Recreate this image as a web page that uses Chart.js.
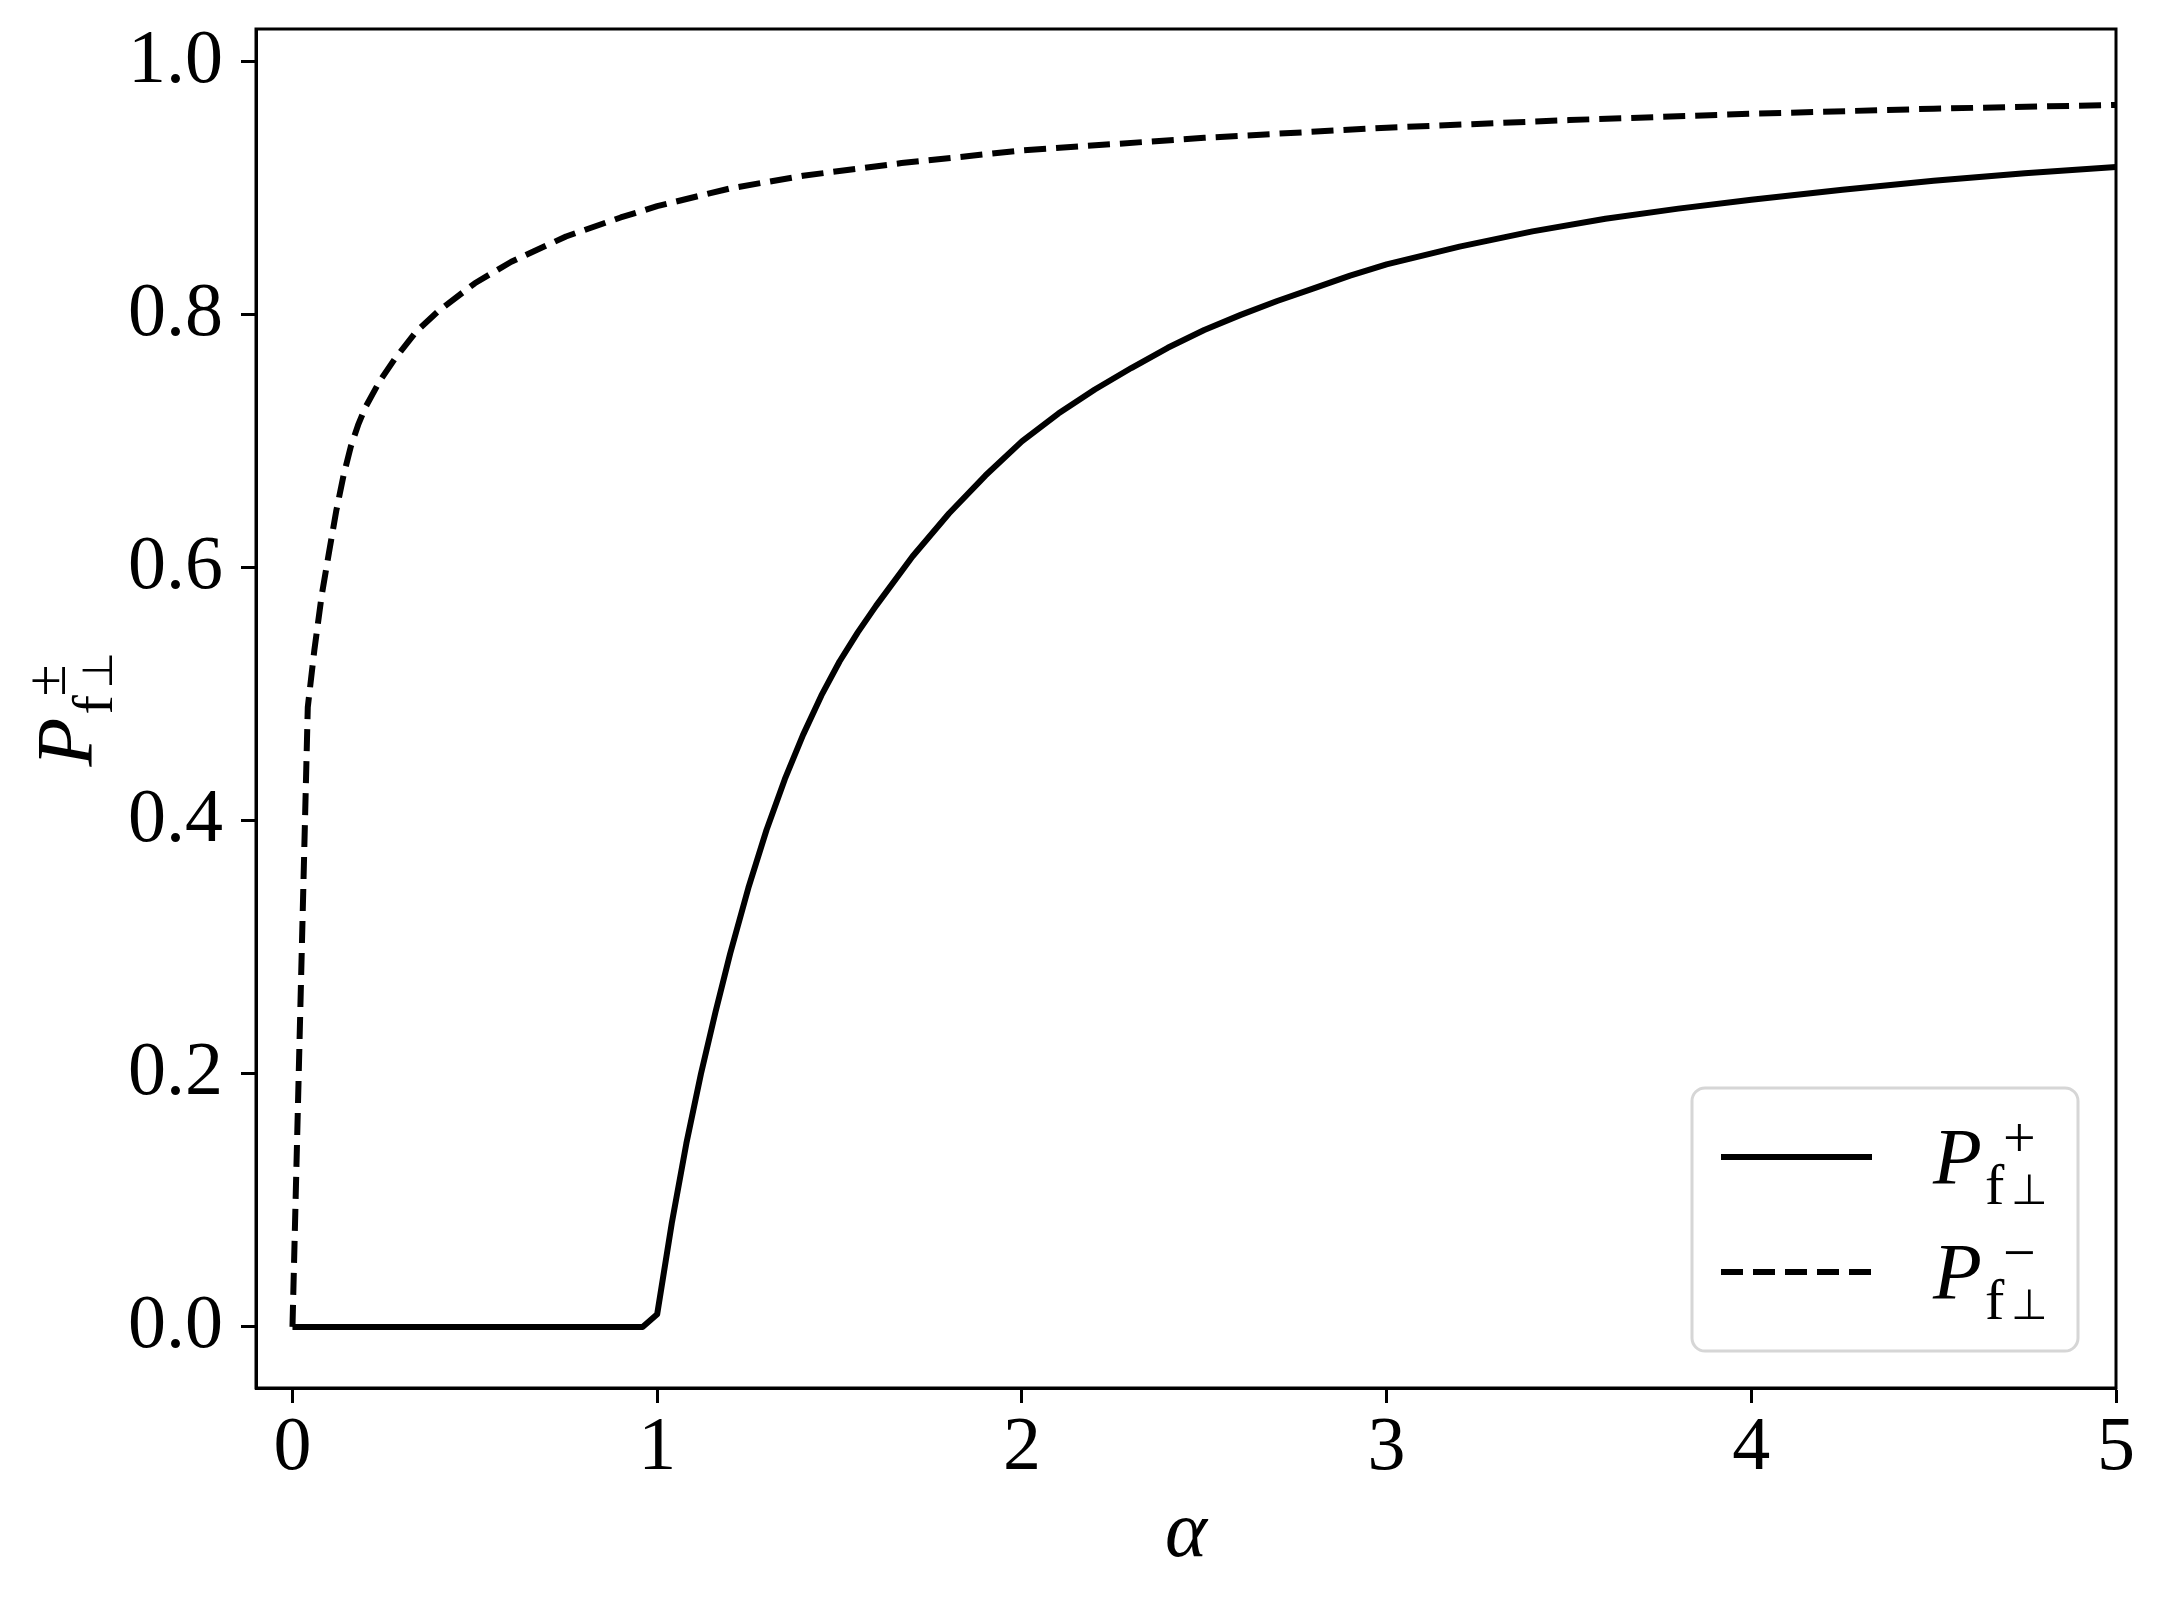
<!DOCTYPE html>
<html>
<head>
<meta charset="utf-8">
<script src="https://cdn.jsdelivr.net/npm/chart.js@4.4.1/dist/chart.umd.min.js"></script>
<style>
html,body{margin:0;padding:0;background:#fff;}
canvas{display:block;}
</style>
</head>
<body>
<canvas id="c" width="2164" height="1602"></canvas>
<script>
// ---- data ----
const alphaPlus = [0, 0.96, 1.0, 1.04, 1.08, 1.12, 1.16, 1.2, 1.25, 1.3, 1.35, 1.4, 1.45, 1.5, 1.55, 1.6, 1.7, 1.8, 1.9, 2.0, 2.1, 2.2, 2.3, 2.4, 2.5, 2.6, 2.7, 2.8, 2.9, 3.0, 3.2, 3.4, 3.6, 3.8, 4.0, 4.25, 4.5, 4.75, 5.0];
const pPlus     = [0, 0, 0.01, 0.082, 0.145, 0.200, 0.249, 0.295, 0.347, 0.393, 0.433, 0.468, 0.499, 0.526, 0.549, 0.570, 0.609, 0.643, 0.673, 0.700, 0.722, 0.741, 0.758, 0.774, 0.788, 0.800, 0.811, 0.821, 0.831, 0.840, 0.854, 0.866, 0.876, 0.884, 0.891, 0.899, 0.906, 0.912, 0.917];
const alphaMinus = [0, 0.042, 0.06, 0.08, 0.10, 0.12, 0.14, 0.16, 0.18, 0.20, 0.24, 0.28, 0.34, 0.40, 0.50, 0.60, 0.75, 0.90, 1.0, 1.2, 1.4, 1.67, 2.0, 2.5, 3.0, 3.5, 4.0, 4.5, 5.0];
const pMinus     = [0, 0.49, 0.535, 0.578, 0.612, 0.645, 0.673, 0.696, 0.713, 0.727, 0.748, 0.765, 0.787, 0.803, 0.825, 0.842, 0.862, 0.877, 0.886, 0.900, 0.910, 0.920, 0.930, 0.940, 0.948, 0.954, 0.959, 0.963, 0.966];
const xTicks = [0, 1, 2, 3, 4, 5];
const yTicks = [0.0, 0.2, 0.4, 0.6, 0.8, 1.0];
const xRange = [-0.1, 5];
const yRange = [-0.0483, 1.026];
const seriesSuperscripts = ['+', '\u2212'];

const SERIF = '"Liberation Serif", "Times New Roman", serif';

function toPoints(xs, ys) { return xs.map((x, i) => ({ x: x, y: ys[i] })); }

// draws P_{f⊥}^{sup} with its baseline at (0,0)
function drawMathP(ctx, sup) {
  ctx.textAlign = 'left';
  ctx.textBaseline = 'alphabetic';
  ctx.font = 'italic 80px ' + SERIF;
  ctx.fillText('P', 0, 0);
  ctx.font = '58px ' + SERIF;
  ctx.fillText('f', 52, 20);
  ctx.font = '42px "DejaVu Sans"';
  ctx.fillText('\u22A5', 78, 20);
  ctx.font = '58px ' + SERIF;
  ctx.fillText(sup, 70, -27);
}

const framePlugin = {
  id: 'frame',
  afterDraw(chart) {
    const ctx = chart.ctx, a = chart.chartArea;
    ctx.save();
    ctx.strokeStyle = '#000';
    ctx.lineWidth = 3;
    ctx.strokeRect(a.left, a.top, a.right - a.left, a.bottom - a.top);
    ctx.restore();
  }
};

const labelPlugin = {
  id: 'mathLabels',
  afterDraw(chart) {
    const ctx = chart.ctx, a = chart.chartArea;
    ctx.save();
    ctx.fillStyle = '#000';
    // x-axis title
    ctx.font = 'italic 80px ' + SERIF;
    ctx.textAlign = 'center';
    ctx.textBaseline = 'alphabetic';
    ctx.fillText('\u03B1', (a.left + a.right) / 2, a.bottom + 168);
    // y-axis title
    ctx.save();
    ctx.translate(a.left - 164, (a.top + a.bottom) / 2 + 58);
    ctx.rotate(-Math.PI / 2);
    drawMathP(ctx, '\u00B1');
    ctx.restore();

    // legend
    const left = a.right - 424, top = a.bottom - 300, w = 386, h = 263, r = 13;
    ctx.beginPath();
    ctx.moveTo(left + r, top);
    ctx.arcTo(left + w, top, left + w, top + h, r);
    ctx.arcTo(left + w, top + h, left, top + h, r);
    ctx.arcTo(left, top + h, left, top, r);
    ctx.arcTo(left, top, left + w, top, r);
    ctx.closePath();
    ctx.fillStyle = 'rgba(255,255,255,0.8)';
    ctx.fill();
    ctx.strokeStyle = '#d6d6d6';
    ctx.lineWidth = 3;
    ctx.stroke();

    chart.data.datasets.forEach((ds, i) => {
      const ly = top + 69 + i * 115;
      ctx.beginPath();
      ctx.strokeStyle = ds.borderColor;
      ctx.lineWidth = ds.borderWidth;
      ctx.setLineDash(ds.borderDash || []);
      ctx.lineCap = 'butt';
      ctx.moveTo(left + 29, ly);
      ctx.lineTo(left + 180, ly);
      ctx.stroke();
      ctx.setLineDash([]);
      ctx.fillStyle = '#000';
      ctx.save();
      ctx.translate(left + 241, ly + 27);
      drawMathP(ctx, seriesSuperscripts[i]);
      ctx.restore();
    });
    ctx.restore();
  }
};

const tickFont = { family: SERIF, size: 76 };

new Chart(document.getElementById('c'), {
  type: 'line',
  data: {
    datasets: [
      {
        label: 'P+',
        data: toPoints(alphaPlus, pPlus),
        borderColor: '#000',
        borderWidth: 6,
        pointRadius: 0,
        tension: 0,
        fill: false,
        borderJoinStyle: 'round',
        borderCapStyle: 'butt'
      },
      {
        label: 'P-',
        data: toPoints(alphaMinus, pMinus),
        borderColor: '#000',
        borderWidth: 6,
        borderDash: [22, 10],
        pointRadius: 0,
        tension: 0,
        fill: false,
        borderJoinStyle: 'round',
        borderCapStyle: 'butt'
      }
    ]
  },
  options: {
    responsive: false,
    animation: false,
    devicePixelRatio: 1,
    layout: { padding: { left: 0, right: 48, top: 29, bottom: 0 } },
    plugins: { legend: { display: false }, tooltip: { enabled: false } },
    scales: {
      x: {
        type: 'linear',
        min: xRange[0],
        max: xRange[1],
        afterBuildTicks: s => { s.ticks = xTicks.map(v => ({ value: v })); },
        afterFit: s => { s.height = 214; s.paddingLeft = 0; s.paddingRight = 0; },
        grid: { display: true, drawOnChartArea: false, drawTicks: true, tickLength: 15, tickWidth: 3, tickColor: '#000' },
        border: { display: true, color: '#000', width: 3 },
        ticks: { color: '#000', font: tickFont, padding: 0, maxRotation: 0, minRotation: 0, autoSkip: false,
                 callback: v => String(v) }
      },
      y: {
        type: 'linear',
        min: yRange[0],
        max: yRange[1],
        afterBuildTicks: s => { s.ticks = yTicks.map(v => ({ value: v })); },
        afterFit: s => { s.width = 256; s.paddingTop = 0; s.paddingBottom = 0; },
        grid: { display: true, drawOnChartArea: false, drawTicks: true, tickLength: 15, tickWidth: 3, tickColor: '#000' },
        border: { display: true, color: '#000', width: 3 },
        ticks: { color: '#000', font: tickFont, padding: 18, autoSkip: false,
                 callback: v => Number(v).toFixed(1) }
      }
    }
  },
  plugins: [framePlugin, labelPlugin]
});
</script>
</body>
</html>
